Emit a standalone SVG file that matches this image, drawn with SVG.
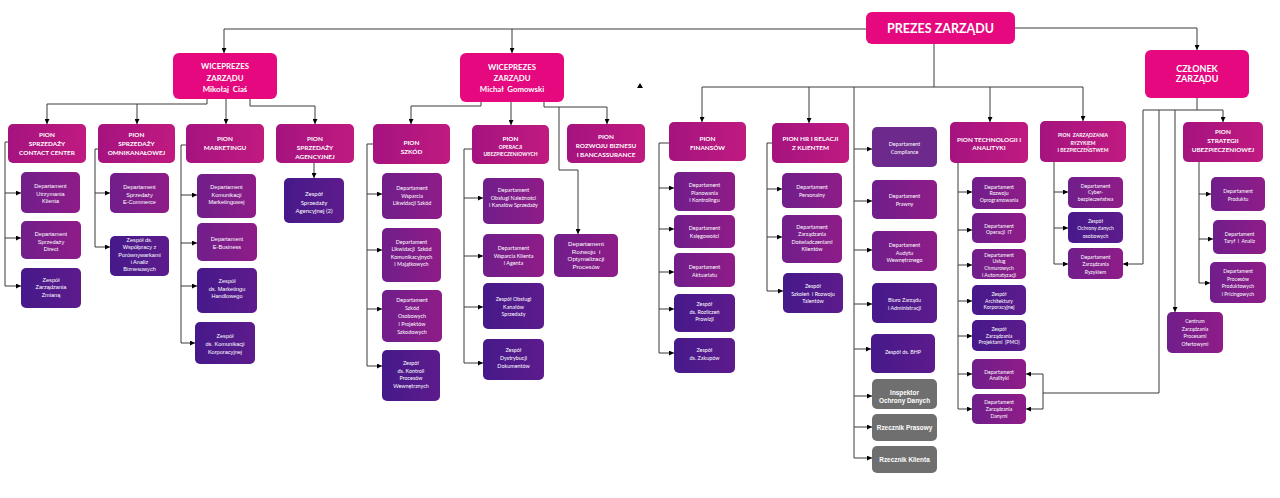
<svg xmlns="http://www.w3.org/2000/svg" width="1280" height="498" viewBox="0 0 1280 498">
<style>
.top{fill:#e5087e}
.pion{fill:url(#gP)}
.dept{fill:url(#gD)}
.team{fill:url(#gT)}
.comp{fill:#6d2a8c}
.gray{fill:#6f6f6f}
text,tspan{fill:#fff;text-anchor:middle;dominant-baseline:central}
.tt{font-family:Lato,"Liberation Sans",sans-serif;font-weight:bold;font-size:12.5px}
.tw{font-family:Lato,"Liberation Sans",sans-serif;font-weight:bold;font-size:7.8px}
.tc{font-family:Lato,"Liberation Sans",sans-serif;font-weight:bold;font-size:9px}
.tp{font-family:Lato,"Liberation Sans",sans-serif;font-weight:bold;font-size:6.4px}
.ts{font-family:Lato,"Liberation Sans",sans-serif;font-weight:bold;font-size:5px}
.td{font-family:"Liberation Sans",Arial,sans-serif;font-size:5.6px}
.tl{font-family:Lato,"Liberation Sans",sans-serif;font-size:5.4px}
.tg{font-family:"Liberation Sans",Arial,sans-serif;font-weight:bold;font-size:6.4px}
.c path{fill:none;stroke:#3a3a3a;stroke-width:1}
.c path.m{marker-end:url(#ah)}
</style>
<defs>
<linearGradient id="gP" x1="0" y1="0" x2="1" y2="0"><stop offset="0" stop-color="#a5137f"/><stop offset="1" stop-color="#c01a80"/></linearGradient>
<linearGradient id="gD" x1="0" y1="0" x2="1" y2="0"><stop offset="0" stop-color="#701e8b"/><stop offset="1" stop-color="#8f1c88"/></linearGradient>
<linearGradient id="gT" x1="0" y1="0" x2="1" y2="0"><stop offset="0" stop-color="#46198a"/><stop offset="1" stop-color="#5d1b8c"/></linearGradient>
<marker id="ah" viewBox="0 0 10 10" refX="10" refY="5" markerWidth="5" markerHeight="5" markerUnits="userSpaceOnUse" orient="auto"><path d="M0,0 L10,5 L0,10 z" fill="#000"/></marker>
</defs>
<rect width="1280" height="498" fill="#fff"/>

<g class="c" id="connectors">
<path class="m" d="M866,29 H224 V53"/>
<path class="m" d="M512,29 V53"/>
<path class="m" d="M1015,28 H1197 V50"/>
<path d="M934,44 V87"/>
<path d="M702,87 H1083"/>
<path class="m" d="M702,87 V122"/>
<path class="m" d="M809,87 V123"/>
<path class="m" d="M990,87 V122"/>
<path class="m" d="M1083,87 V121"/>
<path d="M854,87 V458"/>
<path d="M1197,98 V110"/>
<path d="M1143,110 H1223"/>
<path class="m" d="M1223,110 V122"/>
<path class="m" d="M1143,110 V264 H1123"/>
<path d="M1159,110 V393 H1043"/>
<path d="M1043,374 V409"/>
<path class="m" d="M1043,374 H1026"/>
<path class="m" d="M1043,409 H1026"/>
<path class="m" d="M1175,110 V312"/>
<path class="m" d="M207,99 V104 H47 V124"/>
<path class="m" d="M137,104 V124"/>
<path class="m" d="M226,99 V124"/>
<path class="m" d="M250,99 V106 H315 V124"/>
<path class="m" d="M314,163 V178"/>
<path class="m" d="M481,102 V106 H411 V124"/>
<path class="m" d="M511,102 V125"/>
<path class="m" d="M544,102 V107 H607 V124"/>
<path class="m" d="M559,107 V170 H578 V234"/>
<path d="M8,142 H5 V286"/>
<path class="m" d="M5,193 H21"/>
<path class="m" d="M5,238 H21"/>
<path class="m" d="M5,286 H21"/>
<path d="M98,149 H95 V247"/>
<path class="m" d="M95,193 H110"/>
<path class="m" d="M95,247 H110"/>
<path d="M186,145 H181 V343"/>
<path class="m" d="M181,195 H197"/>
<path class="m" d="M181,243 H197"/>
<path class="m" d="M181,286 H197"/>
<path class="m" d="M181,343 H195"/>
<path d="M373,144 H367 V366"/>
<path class="m" d="M367,194 H382"/>
<path class="m" d="M367,250 H382"/>
<path class="m" d="M367,309 H382"/>
<path class="m" d="M367,366 H382"/>
<path d="M472,149 H464 V363"/>
<path class="m" d="M464,198 H483"/>
<path class="m" d="M464,256 H483"/>
<path class="m" d="M464,307 H483"/>
<path class="m" d="M464,363 H483"/>
<path d="M669,143 H659 V353"/>
<path class="m" d="M659,188 H674"/>
<path class="m" d="M659,229 H674"/>
<path class="m" d="M659,272 H674"/>
<path class="m" d="M659,309 H674"/>
<path class="m" d="M659,353 H674"/>
<path d="M772,143 H767 V291"/>
<path class="m" d="M767,189 H782"/>
<path class="m" d="M767,237 H782"/>
<path class="m" d="M767,291 H783"/>
<path class="m" d="M854,149 H872"/>
<path class="m" d="M854,201 H872"/>
<path class="m" d="M854,250 H872"/>
<path class="m" d="M854,304 H872"/>
<path class="m" d="M854,349 H871"/>
<path class="m" d="M854,396 H872"/>
<path class="m" d="M854,427 H872"/>
<path class="m" d="M854,458 H872"/>
<path d="M958,163 V409"/>
<path class="m" d="M958,192 H972"/>
<path class="m" d="M958,230 H972"/>
<path class="m" d="M958,265 H972"/>
<path class="m" d="M958,301 H972"/>
<path class="m" d="M958,336 H972"/>
<path class="m" d="M958,374 H972"/>
<path class="m" d="M958,409 H972"/>
<path d="M1054,162 V264"/>
<path class="m" d="M1054,192 H1068"/>
<path class="m" d="M1054,228 H1068"/>
<path class="m" d="M1054,264 H1068"/>
<path d="M1199,162 V283"/>
<path class="m" d="M1199,194 H1211"/>
<path class="m" d="M1199,239 H1213"/>
<path class="m" d="M1199,283 H1210"/>
<polygon points="637,88 640,83 643,88" fill="#000"/>
</g>

<g id="prezes"><rect class="top" x="866" y="12" width="149" height="32" rx="6"/><text class="tt" x="940.5" y="28">PREZES ZARZĄDU</text></g>
<g id="wiceprezes-1"><rect class="top" x="173" y="53" width="104" height="46" rx="6"/><text class="tw"><tspan x="225" y="66">WICEPREZES</tspan><tspan x="225" y="77.5">ZARZĄDU</tspan><tspan x="225" y="89">Mikołaj&#160; Ciaś</tspan></text></g>
<g id="wiceprezes-2"><rect class="top" x="460" y="53" width="104" height="49" rx="6"/><text class="tw"><tspan x="512" y="67">WICEPREZES</tspan><tspan x="512" y="78">ZARZĄDU</tspan><tspan x="512" y="89">Michał&#160; Gomowski</tspan></text></g>
<g id="czlonek"><rect class="top" x="1145" y="50" width="104" height="48" rx="6"/><text class="tc"><tspan x="1197" y="68">CZŁONEK</tspan><tspan x="1197" y="78">ZARZĄDU</tspan></text></g>

<g id="pion-cc"><rect class="pion" x="8" y="124" width="78" height="39" rx="5"/><text class="tp"><tspan x="47" y="134">PION</tspan><tspan x="47" y="143">SPRZEDAŻY</tspan><tspan x="47" y="152">CONTACT CENTER</tspan></text></g>
<g id="pion-omni"><rect class="pion" x="98" y="124" width="77" height="39" rx="5"/><text class="tp"><tspan x="136.5" y="134">PION</tspan><tspan x="136.5" y="143">SPRZEDAŻY</tspan><tspan x="136.5" y="152">OMNIKANAŁOWEJ</tspan></text></g>
<g id="pion-mark"><rect class="pion" x="186" y="124" width="78" height="39" rx="5"/><text class="tp"><tspan x="225" y="138">PION</tspan><tspan x="225" y="147">MARKETINGU</tspan></text></g>
<g id="pion-agen"><rect class="pion" x="276" y="124" width="78" height="39" rx="5"/><text class="tp"><tspan x="315" y="138">PION</tspan><tspan x="315" y="147">SPRZEDAŻY</tspan><tspan x="315" y="155.5">AGENCYJNEJ</tspan></text></g>
<g id="pion-szkod"><rect class="pion" x="373" y="124" width="77" height="40" rx="5"/><text class="tp"><tspan x="411.5" y="142">PION</tspan><tspan x="411.5" y="151">SZKÓD</tspan></text></g>
<g id="pion-oper"><rect class="pion" x="472" y="125" width="77" height="39" rx="5"/><text><tspan class="tp" x="510.5" y="138">PION</tspan><tspan class="ts" x="510.5" y="147">OPERACJI</tspan><tspan class="ts" x="510.5" y="154">UBEZPIECZENIOWYCH</tspan></text></g>
<g id="pion-rozw"><rect class="pion" x="567" y="124" width="78" height="39" rx="5"/><text class="tp"><tspan x="606" y="136">PION</tspan><tspan x="606" y="145">ROZWOJU BIZNESU</tspan><tspan x="606" y="153.5">I BANCASSURANCE</tspan></text></g>
<g id="pion-fin"><rect class="pion" x="669" y="122" width="77" height="39" rx="5"/><text class="tp"><tspan x="707.5" y="138">PION</tspan><tspan x="707.5" y="147">FINANSÓW</tspan></text></g>
<g id="pion-hr"><rect class="pion" x="772" y="123" width="77" height="40" rx="5"/><text class="tp"><tspan x="810.5" y="138">PION HR I RELACJI</tspan><tspan x="810.5" y="147">Z KLIENTEM</tspan></text></g>
<g id="pion-tech"><rect class="pion" x="950" y="122" width="78" height="41" rx="5"/><text class="tp"><tspan x="989" y="139">PION TECHNOLOGII I</tspan><tspan x="989" y="147">ANALITYKI</tspan></text></g>
<g id="pion-ryz"><rect class="pion" x="1040" y="121" width="86" height="41" rx="5"/><text class="ts"><tspan x="1083" y="135">PION&#160; ZARZĄDZANIA</tspan><tspan x="1083" y="142.5">RYZYKIEM</tspan><tspan x="1083" y="150">I BEZPIECZEŃSTWEM</tspan></text></g>
<g id="pion-strat"><rect class="pion" x="1183" y="122" width="80" height="40" rx="5"/><text class="tp"><tspan x="1223" y="131">PION</tspan><tspan x="1223" y="140">STRATEGII</tspan><tspan x="1223" y="149">UBEZPIECZENIOWEJ</tspan></text></g>

<g id="dep-utrzymania"><rect class="dept" x="21" y="172" width="59" height="41" rx="5"/><text class="td"><tspan x="50.5" y="186">Departament</tspan><tspan x="50.5" y="193.5">Utrzymania</tspan><tspan x="50.5" y="201">Klienta</tspan></text></g>
<g id="dep-direct"><rect class="dept" x="21" y="221" width="60" height="38" rx="5"/><text class="td"><tspan x="51" y="234">Departament</tspan><tspan x="51" y="241.5">Sprzedaży</tspan><tspan x="51" y="249">Direct</tspan></text></g>
<g id="zesp-zmiana"><rect class="team" x="21" y="268" width="60" height="40" rx="5"/><text class="td"><tspan x="51" y="279.5">Zespół</tspan><tspan x="51" y="287">Zarządzania</tspan><tspan x="51" y="294.5">Zmianą</tspan></text></g>

<g id="dep-ecommerce"><rect class="dept" x="110" y="173" width="59" height="40" rx="5"/><text class="td"><tspan x="139.5" y="187">Departament</tspan><tspan x="139.5" y="194.5">Sprzedaży</tspan><tspan x="139.5" y="202">E-Commerce</tspan></text></g>
<g id="zesp-porown"><rect class="team" x="110" y="236" width="59" height="40" rx="5"/><text class="td"><tspan x="139.5" y="240.1">Zespół ds.</tspan><tspan x="139.5" y="247.3">Współpracy z</tspan><tspan x="139.5" y="254.5">Porównywarkami</tspan><tspan x="139.5" y="261.7">i Analiz</tspan><tspan x="139.5" y="268.9">Biznesowych</tspan></text></g>

<g id="dep-komunikacji"><rect class="dept" x="197" y="174" width="59" height="44" rx="5"/><text class="td"><tspan x="226.5" y="187">Departament</tspan><tspan x="226.5" y="194.5">Komunikacji</tspan><tspan x="226.5" y="202">Marketingowej</tspan></text></g>
<g id="dep-ebusiness"><rect class="dept" x="197" y="223" width="60" height="38" rx="5"/><text class="td"><tspan x="227" y="239">Departament</tspan><tspan x="227" y="247">E-Business</tspan></text></g>
<g id="zesp-handlowy"><rect class="team" x="197" y="268" width="60" height="45" rx="5"/><text class="td"><tspan x="227" y="281">Zespół</tspan><tspan x="227" y="288.5">ds. Marketingu</tspan><tspan x="227" y="296">Handlowego</tspan></text></g>
<g id="zesp-korpo"><rect class="team" x="195" y="322" width="60" height="42" rx="5"/><text class="td"><tspan x="225" y="336">Zespół</tspan><tspan x="225" y="344">ds. Komunikacji</tspan><tspan x="225" y="352">Korporacyjnej</tspan></text></g>

<g id="zesp-agencyjna"><rect class="team" x="284" y="178" width="60" height="45" rx="5"/><text class="tl" style="font-size:6px"><tspan x="314" y="193">Zespół</tspan><tspan x="314" y="201.5">Sprzedaży</tspan><tspan x="314" y="210">Agencyjnej (2)</tspan></text></g>

<g id="dep-wsparcia-likw"><rect class="dept" x="382" y="173" width="60" height="46" rx="5"/><text class="tl"><tspan x="412" y="188">Departament</tspan><tspan x="412" y="195.5">Wsparcia</tspan><tspan x="412" y="203">Likwidacji Szkód</tspan></text></g>
<g id="dep-likw-kom"><rect class="dept" x="382" y="228" width="59" height="54" rx="5"/><text class="tl"><tspan x="411.5" y="241.7">Departament</tspan><tspan x="411.5" y="249.1">Likwidacji&#160; Szkód</tspan><tspan x="411.5" y="256.5">Komunikacyjnych</tspan><tspan x="411.5" y="263.9">i Majątkowych</tspan></text></g>
<g id="dep-osobowych"><rect class="dept" x="382" y="290" width="60" height="52" rx="5"/><text class="tl"><tspan x="412" y="300">Departament</tspan><tspan x="412" y="308">Szkód</tspan><tspan x="412" y="316">Osobowych</tspan><tspan x="412" y="324">i Projektów</tspan><tspan x="412" y="332">Szkodowych</tspan></text></g>
<g id="zesp-kontroli"><rect class="team" x="382" y="350" width="58" height="51" rx="5"/><text class="tl"><tspan x="411" y="363">Zespół</tspan><tspan x="411" y="370.7">ds. Kontroli</tspan><tspan x="411" y="378.3">Procesów</tspan><tspan x="411" y="386">Wewnętrznych</tspan></text></g>

<g id="dep-naleznosci"><rect class="dept" x="483" y="178" width="61" height="46" rx="5"/><text class="tl"><tspan x="513.5" y="190">Departament</tspan><tspan x="513.5" y="197.5">Obsługi Należności</tspan><tspan x="513.5" y="205">i Kanałów Sprzedaży</tspan></text></g>
<g id="dep-wsparcia-klienta"><rect class="dept" x="483" y="234" width="61" height="43" rx="5"/><text class="tl"><tspan x="513.5" y="248">Departament</tspan><tspan x="513.5" y="255.5">Wsparcia Klienta</tspan><tspan x="513.5" y="263">i Agenta</tspan></text></g>
<g id="zesp-kanalow"><rect class="team" x="483" y="283" width="61" height="46" rx="5"/><text class="tl"><tspan x="513.5" y="299">Zespół Obsługi</tspan><tspan x="513.5" y="306.5">Kanałów</tspan><tspan x="513.5" y="314">Sprzedaży</tspan></text></g>
<g id="zesp-dokumentow"><rect class="team" x="483" y="339" width="61" height="41" rx="5"/><text class="tl"><tspan x="513.5" y="350">Zespół</tspan><tspan x="513.5" y="358">Dystrybucji</tspan><tspan x="513.5" y="366">Dokumentów</tspan></text></g>

<g id="dep-optymalizacji"><rect class="dept" x="554" y="234" width="64" height="43" rx="5"/><text class="td" style="font-size:6.2px"><tspan x="586" y="243">Departament</tspan><tspan x="586" y="250.7">Rozwoju&#160; i</tspan><tspan x="586" y="258.3">Optymalizacji</tspan><tspan x="586" y="266">Procesów</tspan></text></g>

<g id="dep-planowania"><rect class="dept" x="674" y="172" width="61" height="39" rx="5"/><text class="tl"><tspan x="704.5" y="185">Departament</tspan><tspan x="704.5" y="192.5">Planowania</tspan><tspan x="704.5" y="200">i Kontrolingu</tspan></text></g>
<g id="dep-ksiegowosci"><rect class="dept" x="674" y="215" width="61" height="33" rx="5"/><text class="tl"><tspan x="704.5" y="228">Departament</tspan><tspan x="704.5" y="236">Księgowości</tspan></text></g>
<g id="dep-aktuariatu"><rect class="dept" x="674" y="253" width="61" height="34" rx="5"/><text class="tl"><tspan x="704.5" y="267">Departament</tspan><tspan x="704.5" y="274.5">Aktuariatu</tspan></text></g>
<g id="zesp-prowizji"><rect class="team" x="674" y="294" width="61" height="38" rx="5"/><text class="tl"><tspan x="704.5" y="304">Zespół</tspan><tspan x="704.5" y="311.5">ds. Rozliczeń</tspan><tspan x="704.5" y="319">Prowizji</tspan></text></g>
<g id="zesp-zakupow"><rect class="team" x="674" y="338" width="61" height="35" rx="5"/><text class="tl"><tspan x="704.5" y="350">Zespół</tspan><tspan x="704.5" y="357.5">ds. Zakupów</tspan></text></g>

<g id="dep-personalny"><rect class="dept" x="782" y="173" width="60" height="35" rx="5"/><text class="tl"><tspan x="812" y="187">Departament</tspan><tspan x="812" y="195">Personalny</tspan></text></g>
<g id="dep-doswiadczen"><rect class="dept" x="782" y="215" width="60" height="48" rx="5"/><text class="tl"><tspan x="812" y="227">Departament</tspan><tspan x="812" y="234.3">Zarządzania</tspan><tspan x="812" y="241.7">Doświadczeniami</tspan><tspan x="812" y="249">Klientów</tspan></text></g>
<g id="zesp-talentow"><rect class="team" x="783" y="273" width="60" height="40" rx="5"/><text class="tl"><tspan x="813" y="286">Zespół</tspan><tspan x="813" y="293.5">Szkoleń&#160; i Rozwoju</tspan><tspan x="813" y="301">Talentów</tspan></text></g>

<g id="dep-compliance"><rect class="comp" x="872" y="127" width="65" height="40" rx="5"/><text class="tl"><tspan x="904.5" y="144">Departament</tspan><tspan x="904.5" y="152">Compliance</tspan></text></g>
<g id="dep-prawny"><rect class="dept" x="872" y="180" width="65" height="39" rx="5"/><text class="tl"><tspan x="904.5" y="196">Departament</tspan><tspan x="904.5" y="203.5">Prawny</tspan></text></g>
<g id="dep-audytu"><rect class="dept" x="872" y="231" width="65" height="40" rx="5"/><text class="tl"><tspan x="904.5" y="245">Departament</tspan><tspan x="904.5" y="252.5">Audytu</tspan><tspan x="904.5" y="260">Wewnętrznego</tspan></text></g>
<g id="biuro-zarzadu"><rect class="team" x="872" y="283" width="65" height="40" rx="5"/><text class="tl"><tspan x="904.5" y="300">Biuro Zarządu</tspan><tspan x="904.5" y="307.5">i Administracji</tspan></text></g>
<g id="zesp-bhp"><rect class="team" x="871" y="334" width="64" height="39" rx="5"/><text class="tl" x="903" y="352">Zespół ds. BHP</text></g>
<g id="inspektor"><rect class="gray" x="872" y="379" width="65" height="30" rx="5"/><text class="tg"><tspan x="904.5" y="391.5">Inspektor</tspan><tspan x="904.5" y="399.5">Ochrony Danych</tspan></text></g>
<g id="rzecznik-prasowy"><rect class="gray" x="872" y="414" width="65" height="27" rx="5"/><text class="tg" x="904.5" y="427">Rzecznik Prasowy</text></g>
<g id="rzecznik-klienta"><rect class="gray" x="872" y="446" width="65" height="27" rx="5"/><text class="tg" x="904.5" y="459">Rzecznik Klienta</text></g>

<g id="dep-oprogramowania"><rect class="dept" x="972" y="177" width="54" height="32" rx="5"/><text class="tl" style="font-size:5.1px"><tspan x="999" y="186.5">Departament</tspan><tspan x="999" y="193">Rozwoju</tspan><tspan x="999" y="199.5">Oprogramowania</tspan></text></g>
<g id="dep-operacji-it"><rect class="dept" x="972" y="213" width="54" height="30" rx="5"/><text class="tl" style="font-size:5.1px"><tspan x="999" y="225.5">Departament</tspan><tspan x="999" y="232">Operacji&#160; IT</tspan></text></g>
<g id="dep-chmurowych"><rect class="dept" x="972" y="249" width="54" height="30" rx="5"/><text class="tl" style="font-size:5.1px"><tspan x="999" y="254.5">Departament</tspan><tspan x="999" y="261">Usług</tspan><tspan x="999" y="267.5">Chmurowych</tspan><tspan x="999" y="274.5">i Automatyzacji</tspan></text></g>
<g id="zesp-architektury"><rect class="team" x="972" y="285" width="54" height="30" rx="5"/><text class="tl" style="font-size:5.1px"><tspan x="999" y="294">Zespół</tspan><tspan x="999" y="300.5">Architektury</tspan><tspan x="999" y="307">Korporacyjnej</tspan></text></g>
<g id="zesp-pmo"><rect class="team" x="972" y="320" width="54" height="31" rx="5"/><text class="tl" style="font-size:5.1px"><tspan x="999" y="329">Zespół</tspan><tspan x="999" y="335.5">Zarządzania</tspan><tspan x="999" y="342">Projektami&#160; (PMO)</tspan></text></g>
<g id="dep-analityki"><rect class="dept" x="972" y="359" width="54" height="30" rx="5"/><text class="tl" style="font-size:5.1px"><tspan x="999" y="371.5">Departament</tspan><tspan x="999" y="378">Analityki</tspan></text></g>
<g id="dep-danymi"><rect class="dept" x="972" y="394" width="54" height="30" rx="5"/><text class="tl" style="font-size:5.1px"><tspan x="999" y="402">Departament</tspan><tspan x="999" y="409">Zarządzania</tspan><tspan x="999" y="416">Danymi</tspan></text></g>

<g id="dep-cyber"><rect class="dept" x="1068" y="177" width="55" height="31" rx="5"/><text class="tl" style="font-size:5.1px"><tspan x="1095.5" y="185.7">Departament</tspan><tspan x="1095.5" y="192.3">Cyber-</tspan><tspan x="1095.5" y="199">bezpieczeństwa</tspan></text></g>
<g id="zesp-ochrony"><rect class="team" x="1068" y="212" width="55" height="31" rx="5"/><text class="tl" style="font-size:5.1px"><tspan x="1095.5" y="221">Zespół</tspan><tspan x="1095.5" y="228">Ochrony danych</tspan><tspan x="1095.5" y="235.5">osobowych</tspan></text></g>
<g id="dep-ryzykiem"><rect class="dept" x="1068" y="248" width="55" height="31" rx="5"/><text class="tl" style="font-size:5.1px"><tspan x="1095.5" y="256.7">Departament</tspan><tspan x="1095.5" y="264">Zarządzania</tspan><tspan x="1095.5" y="271.5">Ryzykiem</tspan></text></g>

<g id="dep-produktu"><rect class="dept" x="1211" y="177" width="54" height="34" rx="5"/><text class="tl" style="font-size:5.1px"><tspan x="1238" y="191">Departament</tspan><tspan x="1238" y="198.5">Produktu</tspan></text></g>
<g id="dep-taryf"><rect class="dept" x="1213" y="220" width="53" height="34" rx="5"/><text class="tl" style="font-size:5.1px"><tspan x="1239.5" y="233.5">Departament</tspan><tspan x="1239.5" y="241">Taryf&#160; i&#160; Analiz</tspan></text></g>
<g id="dep-pricing"><rect class="dept" x="1210" y="262" width="56" height="41" rx="5"/><text class="tl" style="font-size:5.1px"><tspan x="1238" y="271">Departament</tspan><tspan x="1238" y="278.7">Procesów</tspan><tspan x="1238" y="286.3">Produktowych</tspan><tspan x="1238" y="294">i Pricingowych</tspan></text></g>
<g id="centrum-ofertowe"><rect class="dept" x="1167" y="312" width="56" height="41" rx="5"/><text class="tl" style="font-size:5.1px"><tspan x="1195" y="321">Centrum</tspan><tspan x="1195" y="328.5">Zarządzania</tspan><tspan x="1195" y="336">Procesami</tspan><tspan x="1195" y="343.5">Ofertowymi</tspan></text></g>
</svg>
